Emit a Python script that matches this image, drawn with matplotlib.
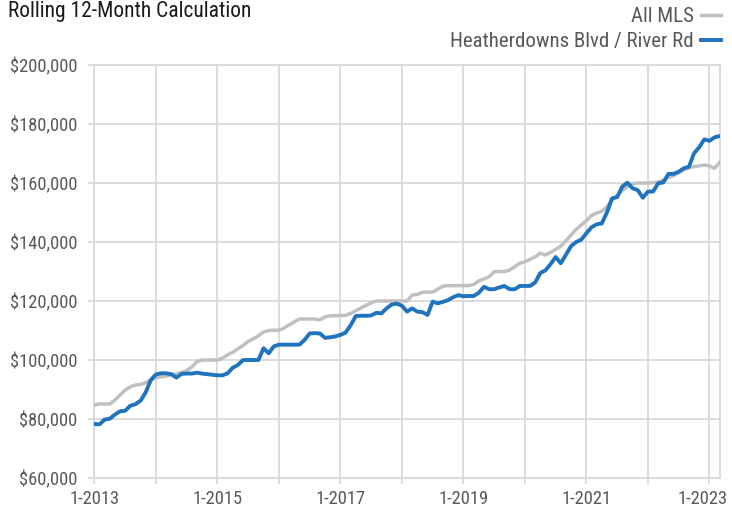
import matplotlib
matplotlib.use('Agg')
import matplotlib.pyplot as plt
from matplotlib.lines import Line2D
from matplotlib.transforms import ScaledTranslation

plt.rcParams['font.family'] = ['Roboto Condensed', 'Liberation Sans Narrow', 'Roboto', 'DejaVu Sans']

# monthly values, 1-2013 .. 3-2023
all_mls = [
    84.7, 85.1, 85.1, 85.1, 86.4, 88.1, 89.8, 90.9, 91.5, 91.7, 92.3, 93.2,
    94.0, 94.3, 94.5, 95.0, 95.3, 95.8, 96.4, 97.6, 99.4, 100.0, 100.0, 100.0,
    100.0, 100.6, 101.8, 102.6, 103.8, 104.9, 106.3, 107.2, 108.2, 109.5, 110.0, 110.1,
    110.1, 110.8, 111.9, 112.9, 113.9, 113.9, 113.9, 113.9, 113.6, 114.6, 115.0, 115.0,
    115.1, 115.1, 115.8, 116.7, 117.6, 118.5, 119.4, 120.0, 120.0, 120.0, 120.0, 120.0,
    120.0, 120.0, 122.0, 122.2, 123.0, 123.0, 123.0, 124.0, 125.0, 125.2, 125.2, 125.2,
    125.2, 125.2, 125.6, 126.8, 127.5, 128.2, 129.9, 130.0, 130.0, 130.5, 131.6, 132.8,
    133.3, 134.1, 135.0, 136.2, 135.6, 136.5, 137.5, 138.6, 140.4, 142.4, 144.3, 145.8,
    147.2, 149.0, 149.8, 150.4, 152.0, 154.2, 155.9, 157.5, 158.8, 159.8, 160.0, 160.0,
    160.0, 160.1, 160.3, 161.0, 161.9, 162.5, 163.5, 164.4, 165.2, 165.6, 165.8, 166.1,
    165.8, 165.0, 167.0,
]
heatherdowns = [
    78.3, 78.2, 79.8, 80.1, 81.5, 82.6, 82.8, 84.5, 85.0, 86.2, 89.0, 93.2,
    95.1, 95.5, 95.5, 95.2, 94.0, 95.3, 95.4, 95.4, 95.7, 95.4, 95.2, 95.0,
    94.8, 94.8, 95.5, 97.4, 98.3, 100.0, 100.0, 100.0, 100.0, 104.0, 102.3, 104.6,
    105.2, 105.2, 105.2, 105.2, 105.2, 106.8, 109.0, 109.1, 109.0, 107.5, 107.7, 108.0,
    108.5, 109.3, 111.8, 114.9, 115.0, 115.0, 115.1, 116.0, 115.8, 117.5, 118.8, 119.1,
    118.4, 116.4, 117.5, 116.4, 116.2, 115.3, 119.8, 119.2, 119.7, 120.3, 121.3, 122.0,
    121.6, 121.7, 121.7, 122.8, 124.8, 124.0, 124.0, 124.6, 125.1, 124.0, 124.0, 125.1,
    125.1, 125.1, 126.3, 129.5, 130.4, 132.5, 134.9, 132.8, 135.7, 138.6, 140.0, 140.8,
    143.0, 145.0, 146.0, 146.3, 150.0, 154.8, 155.2, 158.8, 160.1, 158.2, 157.6, 155.0,
    157.1, 157.1, 159.9, 160.2, 163.1, 163.1, 163.8, 165.0, 165.5, 170.1, 172.1, 174.8,
    174.3, 175.5, 175.9,
]
years = list(range(2013, 2024))
y_ticks = [60000, 80000, 100000, 120000, 140000, 160000, 180000, 200000]

months = list(range(len(all_mls)))
grid_col = '#d9d9d9'
text_col = '#595959'
gray_col = '#c0c0c0'
blue_col = '#1f74bd'

fig = plt.figure(figsize=(7.32, 5.14), dpi=100)
ax = fig.add_axes([94.4 / 732, 1 - 478 / 514, (719.7 - 94.4) / 732, (478 - 65) / 514])

ax.plot(months, [v * 1000 for v in all_mls], color=gray_col, linewidth=2.5,
        solid_joinstyle='round', zorder=3)
ax.plot(months, [v * 1000 for v in heatherdowns], color=blue_col, linewidth=2.8,
        solid_joinstyle='round', zorder=4)

ax.set_xlim(0, len(all_mls) - 1)
ax.set_ylim(60000, 200000)
ax.set_yticks(y_ticks)
ax.set_yticklabels(['${:,}'.format(v) for v in y_ticks])
ax.set_xticks([(y - 2013) * 12 for y in years])
ax.set_xticklabels(['1-%d' % y if (y - 2013) % 2 == 0 else '' for y in years])

ax.grid(True, color=grid_col, linewidth=1.3)
ax.set_axisbelow(True)
for s in ax.spines.values():
    s.set_color(grid_col)
    s.set_linewidth(1.3)
ax.tick_params(axis='both', colors=grid_col, length=4, width=1.3,
               labelcolor=text_col)
ax.tick_params(axis='y', pad=8, labelsize=13.3)
ax.tick_params(axis='x', pad=5, labelsize=13.3)

# last year label sits a little left so it stays inside the picture
last = ax.get_xticklabels()[-1]
last.set_transform(last.get_transform() + ScaledTranslation(-5 / 72, 0, fig.dpi_scale_trans))

fig.text(8 / 732, 1 - 17 / 514, 'Rolling 12-Month Calculation', fontsize=15.5,
         color='#1a1a1a', ha='left', va='baseline')

handles = [Line2D([], [], color=gray_col, linewidth=2.5),
           Line2D([], [], color=blue_col, linewidth=2.8)]
ax.legend(handles, ['All MLS', 'Heatherdowns Blvd / River Rd'],
          loc='upper right', bbox_to_anchor=(721 / 732, 1 - 7 / 514),
          bbox_transform=fig.transFigure, frameon=False, markerfirst=False,
          fontsize=15, labelcolor=text_col, handlelength=0.96, handletextpad=0.33,
          labelspacing=0.3, borderpad=0, borderaxespad=0)

fig.savefig('out.png', dpi=100)
